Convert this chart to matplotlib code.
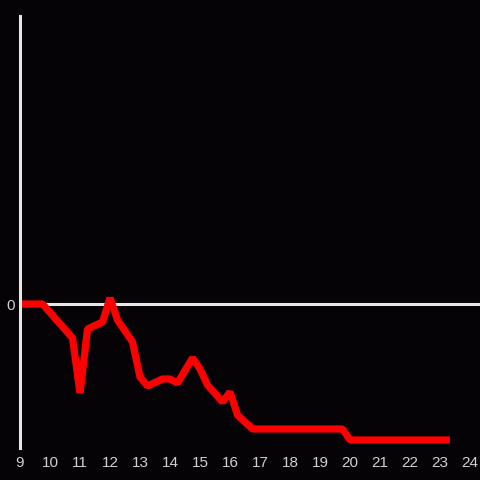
import matplotlib
matplotlib.use("Agg")
import matplotlib.pyplot as plt

hours = [9, 9.75, 10.75, 11, 11.25, 11.75, 12, 12.25, 12.75, 13, 13.25, 13.75,
         14, 14.25, 14.75, 15, 15.25, 15.75, 16, 16.25, 16.75, 19.75, 20, 23.33]
values = [0, 0, -3.4, -8.9, -2.5, -1.8, 0.6, -1.6, -3.8, -7.3, -8.2, -7.5,
          -7.5, -7.9, -5.4, -6.5, -8.1, -9.8, -8.8, -11.1, -12.5, -12.5, -13.6, -13.6]
xticks = list(range(9, 25))
yticks = [0]

bg = "#050306"
fig = plt.figure(figsize=(4.8, 4.8), dpi=100, facecolor=bg)
ax = fig.add_axes([20/480, 32/480, 460/480, 432/480], facecolor=bg)
ax.set_xlim(9, 9 + 460/30)
ax.set_ylim(-14.4, 28.8)

ax.axhline(0, color="#e6e6e6", lw=2.2, zorder=1)
ax.plot(hours, values, color="#ff0000", lw=5.2, solid_joinstyle="bevel",
        solid_capstyle="butt", zorder=3)

for s in ["top", "right", "bottom"]:
    ax.spines[s].set_visible(False)
ax.spines["left"].set_color("#e6e6e6")
ax.spines["left"].set_linewidth(2.2)
ax.spines["left"].set_zorder(4)

ax.set_xticks(xticks)
ax.set_xticklabels([str(t) for t in xticks])
ax.set_yticks(yticks)
ax.set_yticklabels(["0"])
ax.tick_params(axis="both", length=0, colors="#d0d0d0", labelsize=11)
ax.tick_params(axis="x", pad=6)
ax.tick_params(axis="y", pad=4)
for lab in ax.get_xticklabels() + ax.get_yticklabels():
    lab.set_family("Liberation Sans")

fig.savefig("out.png", dpi=100, facecolor=bg)
